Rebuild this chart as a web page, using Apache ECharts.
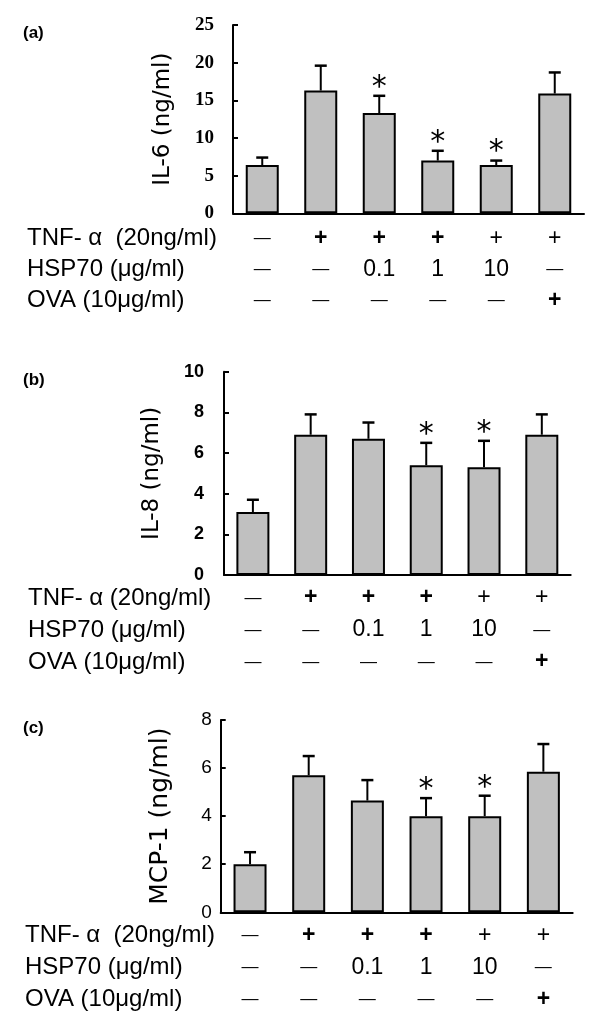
<!DOCTYPE html>
<html>
<head>
<meta charset="utf-8">
<script src="https://cdn.jsdelivr.net/npm/echarts@6/dist/echarts.min.js"></script>
<style>html,body{margin:0;padding:0;background:#fff}#c{width:600px;height:1036px}</style>
</head>
<body>
<div id="c"></div>
<script>
// ---- data ----
const categories = ['Control', 'TNF-α', 'TNF-α + HSP70 0.1', 'TNF-α + HSP70 1', 'TNF-α + HSP70 10', 'TNF-α + OVA'];
const tnfRow = ['–', '+', '+', '+', '+', '+'];
const hspRow = ['–', '–', '0.1', '1', '10', '–'];
const ovaRow = ['–', '–', '–', '–', '–', '+'];
const il6 = [6.4, 16.3, 13.3, 7.0, 6.4, 15.9];
const il6Sd = [1.0, 3.3, 2.3, 1.3, 0.6, 2.8];
const il6Sig = [0, 0, 1, 1, 1, 0];
const il8 = [3.1, 6.9, 6.7, 5.4, 5.3, 6.9];
const il8Sd = [0.6, 1.0, 0.8, 1.1, 1.3, 1.0];
const il8Sig = [0, 0, 0, 1, 1, 0];
const mcp1 = [2.0, 5.7, 4.65, 4.0, 4.0, 5.85];
const mcp1Sd = [0.5, 0.8, 0.85, 0.75, 0.85, 1.15];
const mcp1Sig = [0, 0, 0, 1, 1, 0];
const yTicksA = {min: 0, max: 25, interval: 5};
const yTicksB = {min: 0, max: 10, interval: 2};
const yTicksC = {min: 0, max: 8, interval: 2};
const panels = [
  {tag: '(a)', name: 'IL-6 (ng/ml)', values: il6, sd: il6Sd, sig: il6Sig, ticks: yTicksA,
   tnfLabel: 'TNF- α  (20ng/ml)'},
  {tag: '(b)', name: 'IL-8 (ng/ml)', values: il8, sd: il8Sd, sig: il8Sig, ticks: yTicksB,
   tnfLabel: 'TNF- α (20ng/ml)'},
  {tag: '(c)', name: 'MCP-1 (ng/ml)', values: mcp1, sd: mcp1Sd, sig: mcp1Sig, ticks: yTicksC,
   tnfLabel: 'TNF- α  (20ng/ml)'}
];

// ---- layout / style ----
const layout = [
  {left: 233, right: 16, top: 25, height: 188.3, margin: 10, lh: 31, nameGap: 58, tagY: 33.5, headX: 27,
   tick: {fontFamily: '"Liberation Serif", serif', fontWeight: 'bold', fontSize: 19, margin: 19}, nameSize: 23},
  {left: 224, right: 29.3, top: 371.7, height: 203.3, margin: 7, lh: 32, nameGap: 60, tagY: 380, headX: 28,
   tick: {fontFamily: '"Liberation Sans", Arial, sans-serif', fontWeight: 'bold', fontSize: 18, margin: 20}, nameSize: 23},
  {left: 220.7, right: 27.3, top: 720, height: 192.3, margin: 7, lh: 32, nameGap: 48, tagY: 728, headX: 25,
   tick: {fontFamily: '"Liberation Sans", Arial, sans-serif', fontWeight: 'normal', fontSize: 19, margin: 9}, nameSize: 25}
];
const sans = '"Liberation Sans", Arial, sans-serif';
const cellSize = 23;

const grids = [], xAxes = [], yAxes = [], series = [], graphics = [];
panels.forEach((p, k) => {
  const L = layout[k];
  grids.push({left: L.left, right: L.right, top: L.top, height: L.height, containLabel: false});
  xAxes.push({
    type: 'category', gridIndex: k, data: categories,
    axisLine: {show: true, lineStyle: {color: '#000', width: 2}},
    axisTick: {show: false},
    axisLabel: {
      interval: 0, margin: L.margin, color: '#000',
      formatter: function (v, i) {
        const cell = (s, row) => {
          if (s === '–') return '{d|—}';
          if (s === '+') return (row === 'ova' || (row === 'tnf' && i >= 1 && i <= 3)) ? '{pb|+}' : '{p|+}';
          return '{n|' + s + '}';
        };
        return cell(tnfRow[i], 'tnf') + '\n' + cell(hspRow[i], 'hsp') + '\n' + cell(ovaRow[i], 'ova');
      },
      rich: {
        d: {fontFamily: sans, fontSize: 17, lineHeight: L.lh, color: '#000'},
        p: {fontFamily: sans, fontSize: cellSize, lineHeight: L.lh, color: '#000'},
        pb: {fontFamily: sans, fontSize: cellSize, fontWeight: 'bold', lineHeight: L.lh, color: '#000'},
        n: {fontFamily: sans, fontSize: cellSize, lineHeight: L.lh, color: '#000'}
      }
    },
    splitLine: {show: false}
  });
  yAxes.push({
    type: 'value', gridIndex: k, min: p.ticks.min, max: p.ticks.max, interval: p.ticks.interval,
    name: p.name, nameLocation: 'middle', nameRotate: 90, nameGap: L.nameGap,
    nameTextStyle: {fontFamily: '"DejaVu Sans", sans-serif', fontSize: L.nameSize, color: '#000'},
    axisLine: {show: true, lineStyle: {color: '#000', width: 2}},
    axisTick: {show: true, inside: true, length: 5, lineStyle: {color: '#000', width: 2}},
    axisLabel: {color: '#000', fontFamily: L.tick.fontFamily, fontWeight: L.tick.fontWeight,
      fontSize: L.tick.fontSize, margin: L.tick.margin},
    splitLine: {show: false}
  });
  series.push({
    type: 'bar', xAxisIndex: k, yAxisIndex: k, data: p.values, barWidth: 33,
    itemStyle: {color: '#c0c0c0', borderColor: '#000', borderWidth: 2},
    silent: true, animation: false
  });
  series.push({
    type: 'custom', xAxisIndex: k, yAxisIndex: k, animation: false, silent: true, z: 5,
    data: p.values.map((v, i) => [i, v, v + p.sd[i], p.sig[i]]),
    renderItem: function (params, api) {
      const i = api.value(0);
      const base = api.coord([i, api.value(1)]);
      const top = api.coord([i, api.value(2)]);
      const children = [
        {type: 'line', shape: {x1: base[0], y1: base[1], x2: top[0], y2: top[1]},
         style: {stroke: '#000', lineWidth: 2}},
        {type: 'line', shape: {x1: top[0] - 6, y1: top[1], x2: top[0] + 6, y2: top[1]},
         style: {stroke: '#000', lineWidth: 2.5}}
      ];
      if (api.value(3)) {
        children.push({type: 'text', x: top[0], y: top[1] - 8,
          style: {text: '*', fontFamily: '"DejaVu Sans", sans-serif', fontSize: 30, fill: '#000', align: 'center', verticalAlign: 'middle'}});
      }
      return {type: 'group', children: children};
    }
  });
  // panel tag
  graphics.push({type: 'text', x: 23, y: L.tagY,
    style: {text: p.tag, fontFamily: sans, fontWeight: 'bold', fontSize: 17, fill: '#000', verticalAlign: 'middle'}});
  // row headers aligned with axis-label lines
  const axisY = L.top + L.height;
  const heads = [p.tnfLabel, 'HSP70 (μg/ml)', 'OVA (10μg/ml)'];
  heads.forEach((h, r) => {
    graphics.push({type: 'text', x: L.headX, y: axisY + L.margin + L.lh * (r + 0.5),
      style: {text: h, fontFamily: sans, fontSize: 24, fill: '#000', verticalAlign: 'middle'}});
  });
});

const chart = echarts.init(document.getElementById('c'), null, {renderer: 'canvas'});
chart.setOption({
  animation: false,
  backgroundColor: '#fff',
  grid: grids, xAxis: xAxes, yAxis: yAxes, series: series, graphic: graphics
});
</script>
</body>
</html>
